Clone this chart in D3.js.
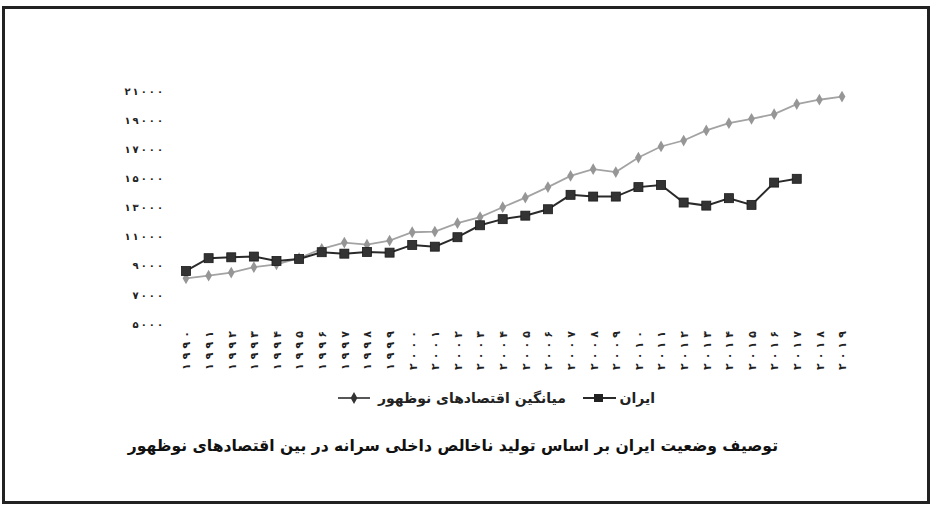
<!DOCTYPE html>
<html>
<head>
<meta charset="utf-8">
<script src="https://cdn.jsdelivr.net/npm/d3@7"></script>
<style>
  body { margin: 0; background: #fff; }
  svg text { font-family: "DejaVu Sans", sans-serif; }
</style>
</head>
<body>
<div id="wrapper"></div>
<script>
const years = d3.range(1990, 2020);
const iran = [8640, 9520, 9580, 9630, 9330, 9470, 9930, 9830, 9950, 9900,
  10430, 10310, 10960, 11780, 12200, 12440, 12880, 13870, 13750, 13750,
  14400, 14550, 13340, 13130, 13640, 13180, 14710, 14970];
const emerging = [8140, 8320, 8530, 8900, 9100, 9520, 10160, 10590, 10450, 10730,
  11300, 11350, 11920, 12340, 13020, 13680, 14400, 15170, 15630, 15430,
  16430, 17190, 17600, 18290, 18790, 19090, 19410, 20100, 20400, 20620];
const yTicks = [5000, 7000, 9000, 11000, 13000, 15000, 17000, 19000, 21000];
const seriesNames = ["ایران", "میانگین اقتصادهای نوظهور"];
const title = "توصیف وضعیت ایران بر اساس تولید ناخالص داخلی سرانه در بین اقتصادهای نوظهور";

const fa = n => String(n).replace(/\d/g, d => "۰۱۲۳۴۵۶۷۸۹"[d]);
// per-glyph spacing (css letter-spacing is ignored for arabic script)
const spread = (n, gap) => String(n).split("").map((c, i) => i ? gap : 0).join(" ");

const width = 937, height = 509;

const svg = d3.select("#wrapper").append("svg")
  .attr("width", width)
  .attr("height", height);

// frame
svg.append("rect")
  .attr("x", 3.5).attr("y", 7.5)
  .attr("width", 925).attr("height", 495)
  .attr("fill", "#fff")
  .attr("stroke", "#222")
  .attr("stroke-width", 3);

const xScale = d3.scalePoint()
  .domain(years)
  .range([186, 842]);

const yScale = d3.scaleLinear()
  .domain([5000, 21000])
  .range([324, 91]);

const yAxis = d3.axisLeft(yScale)
  .tickValues(yTicks)
  .tickFormat(fa)
  .tickSize(0)
  .tickPadding(0);

svg.append("g")
  .attr("transform", "translate(163,0)")
  .call(yAxis)
  .call(g => g.select(".domain").remove())
  .selectAll("text")
  .attr("font-family", "DejaVu Sans")
  .attr("font-size", 10)
  .attr("font-weight", "bold")
  .attr("dx", d => spread(d, 2))
  .attr("fill", "#222");

const xAxis = d3.axisBottom(xScale)
  .tickFormat(fa)
  .tickSize(0)
  .tickPadding(0);

svg.append("g")
  .attr("transform", "translate(0,331)")
  .call(xAxis)
  .call(g => g.select(".domain").remove())
  .selectAll("text")
  .attr("font-family", "DejaVu Sans")
  .attr("font-size", 11)
  .attr("font-weight", "bold")
  .attr("fill", "#222")
  .attr("text-anchor", "end")
  .attr("dy", "0.35em")
  .attr("dx", d => spread(d, 4))
  .attr("transform", "rotate(-90)");

const line = d3.line()
  .x((d, i) => xScale(years[i]))
  .y(d => yScale(d));

// emerging economies average
svg.append("path")
  .datum(emerging)
  .attr("d", line)
  .attr("fill", "none")
  .attr("stroke", "#a3a3a3")
  .attr("stroke-width", 1.8);

const diamond = d3.symbol().type(d3.symbolDiamond).size(40);

svg.append("g").selectAll("path")
  .data(emerging)
  .join("path")
  .attr("d", diamond)
  .attr("transform", (d, i) => `translate(${xScale(years[i])},${yScale(d)})`)
  .attr("fill", "#969696");

// iran
svg.append("path")
  .datum(iran)
  .attr("d", line)
  .attr("fill", "none")
  .attr("stroke", "#2a2a2a")
  .attr("stroke-width", 2);

svg.append("g").selectAll("rect")
  .data(iran)
  .join("rect")
  .attr("x", (d, i) => xScale(years[i]) - 4.5)
  .attr("y", d => yScale(d) - 4.5)
  .attr("width", 9)
  .attr("height", 9)
  .attr("fill", "#333")
  .attr("stroke", "#1a1a1a")
  .attr("stroke-width", 0.8);

// legend
const legend = svg.append("g");

legend.append("line")
  .attr("x1", 583).attr("x2", 616)
  .attr("y1", 398).attr("y2", 398)
  .attr("stroke", "#2a2a2a").attr("stroke-width", 2);
legend.append("rect")
  .attr("x", 594).attr("y", 394).attr("width", 9).attr("height", 8)
  .attr("fill", "#222");
legend.append("text")
  .attr("x", 655).attr("y", 403)
  .attr("direction", "rtl")
  .attr("text-anchor", "start")
  .attr("font-size", 14)
  .attr("font-weight", "bold")
  .attr("fill", "#222")
  .text(seriesNames[0]);

legend.append("line")
  .attr("x1", 338).attr("x2", 370)
  .attr("y1", 398).attr("y2", 398)
  .attr("stroke", "#444").attr("stroke-width", 1.8);
legend.append("path")
  .attr("d", diamond)
  .attr("transform", "translate(354,398)")
  .attr("fill", "#333");
legend.append("text")
  .attr("x", 566).attr("y", 403)
  .attr("direction", "rtl")
  .attr("text-anchor", "start")
  .attr("font-size", 14)
  .attr("font-weight", "bold")
  .attr("fill", "#222")
  .text(seriesNames[1]);

// title
svg.append("text")
  .attr("x", 778).attr("y", 451)
  .attr("direction", "rtl")
  .attr("text-anchor", "start")
  .attr("font-size", 15.6)
  .attr("font-weight", "bold")
  .attr("fill", "#111")
  .text(title);
</script>
</body>
</html>
